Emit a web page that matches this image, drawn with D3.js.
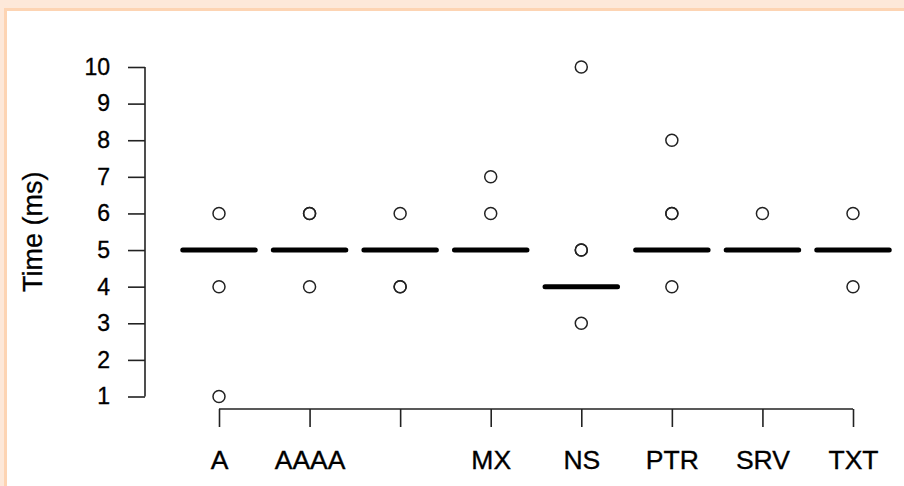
<!DOCTYPE html>
<html><head><meta charset="utf-8">
<script src="https://cdn.jsdelivr.net/npm/d3@7"></script>
<style>body{margin:0;background:#fde8d9;}svg{display:block;}</style>
</head><body>
<script>
const categories = ["A","AAAA","","MX","NS","PTR","SRV","TXT"];
const medians = [5,5,5,5,4,5,5,5];
const outliers = [[6,4,1],[6,6,4],[6,4,4],[7,6],[10,5,5,3],[8,6,6,4],[6],[6,4]];
const yTicks = [1,2,3,4,5,6,7,8,9,10];

const W = 904, H = 486;
const svg = d3.select("body").append("svg").attr("width", W).attr("height", H);
svg.append("rect").attr("x",0).attr("y",0).attr("width",W).attr("height",H).attr("fill","#fde8d9");
svg.append("rect").attr("x",4).attr("y",8).attr("width",W).attr("height",H).attr("fill","#fdd4b3");
svg.append("rect").attr("x",7).attr("y",11).attr("width",W).attr("height",H).attr("fill","#ffffff");

const y = d3.scaleLinear().domain([1,10]).range([396.5,67]);
const x = d3.scalePoint().domain(d3.range(categories.length)).range([219,853]);
const step = x.step();

const ink = "#222";
const font = "Liberation Sans, Arial, sans-serif";
// y axis
const yAxis = svg.append("g").attr("transform","translate(145,0)")
  .call(d3.axisLeft(y).tickValues(yTicks).tickSize(17).tickPadding(18).tickFormat(d3.format("d")));
// x axis
const xAxis = svg.append("g").attr("transform","translate(0,409)")
  .call(d3.axisBottom(x).tickSize(18).tickPadding(22).tickFormat(i => categories[i]));
[yAxis,xAxis].forEach(g=>{
  g.select(".domain").attr("stroke",ink).attr("stroke-width",1.6);
  g.selectAll(".tick line").attr("stroke",ink).attr("stroke-width",1.6);
  g.selectAll("text").attr("fill","#000").attr("font-family",font)
    .attr("stroke","#000").attr("stroke-width",0.35);
});
yAxis.select(".domain").attr("d", `M0,${y(1)}V${y(10)}`);
xAxis.select(".domain").attr("d", `M${x(0)},0H${x(categories.length-1)}`);
yAxis.selectAll("text").attr("font-size",23);
xAxis.selectAll("text").attr("font-size",26.5).attr("dy",null).attr("y",60);

svg.append("text").attr("transform",`translate(42,${(y(1)+y(10))/2}) rotate(-90)`)
  .attr("text-anchor","middle").attr("font-family",font)
  .attr("font-size",27).attr("fill","#000").attr("stroke","#000").attr("stroke-width",0.3)
  .text("Time (ms)");

// medians
svg.append("g").selectAll("line").data(medians).join("line")
  .attr("x1",(d,i)=>x(i)-step*0.4).attr("x2",(d,i)=>x(i)+step*0.4)
  .attr("y1",d=>y(d)).attr("y2",d=>y(d))
  .attr("stroke","#000").attr("stroke-width",5).attr("stroke-linecap","round");

// outliers
const pts = [];
outliers.forEach((arr,i)=>arr.forEach(v=>pts.push({i,v})));
svg.append("g").selectAll("circle").data(pts).join("circle")
  .attr("cx",d=>x(d.i)).attr("cy",d=>y(d.v)).attr("r",6)
  .attr("fill","none").attr("stroke","#222").attr("stroke-width",1.5);
</script>
</body></html>
